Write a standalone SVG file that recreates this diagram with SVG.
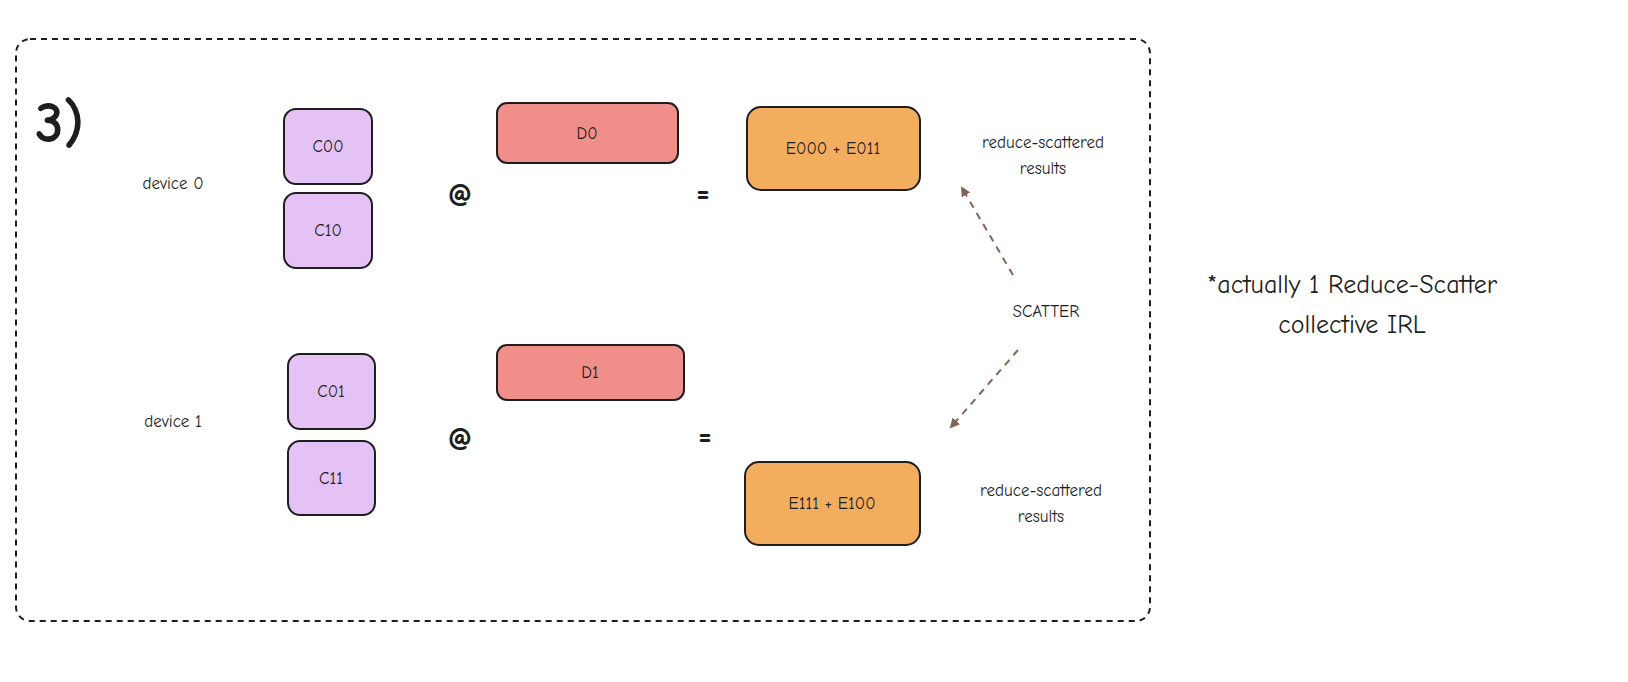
<svg xmlns="http://www.w3.org/2000/svg" width="1628" height="682" viewBox="0 0 1628 682">
<style>
text{font-family:"Comic Neue","Liberation Sans",sans-serif;fill:#1e1e1e}
.c{fill:#e5c2f6;stroke:#1e1e1e;stroke-width:2}
.d{fill:#f08e8a;stroke:#1e1e1e;stroke-width:2}
.e{fill:#f2ae5e;stroke:#1e1e1e;stroke-width:2}
.t{font-size:17px;text-anchor:middle;dominant-baseline:central}
.s{font-size:17px;text-anchor:middle}
.big{font-size:30px;font-weight:bold;text-anchor:middle;dominant-baseline:central}
.a{stroke:#846358;stroke-width:2;stroke-dasharray:7 6;fill:none}
</style>
<defs><marker id="ah" markerWidth="10" markerHeight="10" refX="8" refY="5" orient="auto" markerUnits="userSpaceOnUse"><path d="M0,0 L10,5 L0,10 z" fill="#846358"/></marker></defs>
<rect x="16" y="39" width="1134" height="582" rx="14" fill="none" stroke="#1e1e1e" stroke-width="2" stroke-dasharray="6 5"/>
<text x="35" y="142" style="font-size:58px;font-weight:bold">3)</text>
<text class="t" x="173" y="183">device 0</text>
<text class="t" x="173" y="421">device 1</text>
<g id="c00"><rect class="c" x="284" y="109" width="88" height="75" rx="12"/><text class="t" x="328" y="146">C00</text></g>
<g id="c10"><rect class="c" x="284" y="193" width="88" height="75" rx="12"/><text class="t" x="328" y="230">C10</text></g>
<g id="c01"><rect class="c" x="288" y="354" width="87" height="75" rx="12"/><text class="t" x="331" y="391">C01</text></g>
<g id="c11"><rect class="c" x="288" y="441" width="87" height="74" rx="12"/><text class="t" x="331" y="478">C11</text></g>
<text class="big" x="460" y="193">@</text>
<text class="big" x="460" y="437">@</text>
<g id="d0"><rect class="d" x="497" y="103" width="181" height="60" rx="10"/><text class="t" x="587" y="133">D0</text></g>
<g id="d1"><rect class="d" x="497" y="345" width="187" height="55" rx="10"/><text class="t" x="590" y="372">D1</text></g>
<text class="big" x="703" y="192">=</text>
<text class="big" x="705" y="435">=</text>
<g id="e0"><rect class="e" x="747" y="107" width="173" height="83" rx="14"/><text class="t" x="833" y="148">E000 + E011</text></g>
<g id="e1"><rect class="e" x="745" y="462" width="175" height="83" rx="14"/><text class="t" x="832" y="503">E111 + E100</text></g>
<text class="s" x="1043" y="148">reduce-scattered</text><text class="s" x="1043" y="174">results</text>
<text class="s" x="1041" y="496">reduce-scattered</text><text class="s" x="1041" y="522">results</text>
<text class="t" x="1046" y="311">SCATTER</text>
<g id="connectors">
<line class="a" x1="1013" y1="275" x2="962" y2="188" marker-end="url(#ah)"/>
<line class="a" x1="1018" y1="350" x2="951" y2="427" marker-end="url(#ah)"/>
</g>
<text x="1352" y="293" style="font-size:26px" text-anchor="middle">*actually 1 Reduce-Scatter</text>
<text x="1352" y="333" style="font-size:26px" text-anchor="middle">collective IRL</text>
</svg>
